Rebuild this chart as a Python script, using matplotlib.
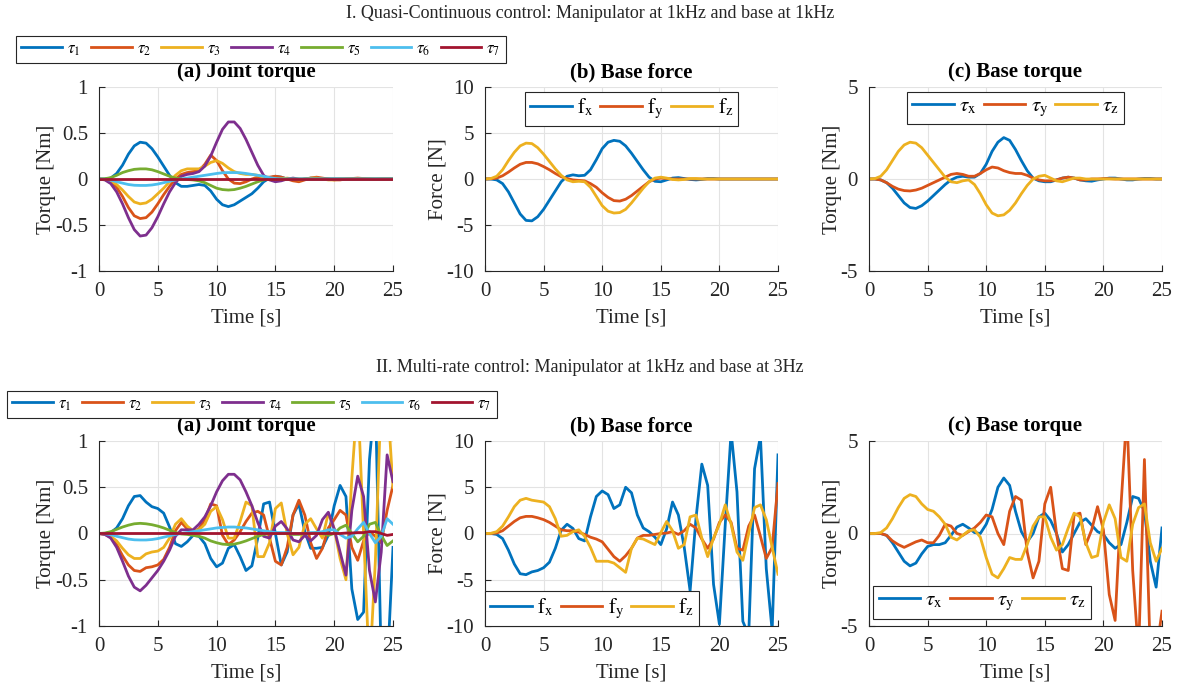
import numpy as np
import matplotlib
matplotlib.use("Agg")
import matplotlib.pyplot as plt

plt.rcParams['font.family'] = ['Liberation Serif', 'DejaVu Serif']
plt.rcParams['mathtext.fontset'] = 'stix'
plt.rcParams['axes.unicode_minus'] = False

# ---------------- data ----------------
t = np.arange(0, 25.01, 0.5)

# I. Quasi-continuous
tau1_c = [0,0,0.01,0.06,0.15,0.27,0.36,0.40,0.39,0.33,
          0.24,0.14,0.04,-0.04,-0.08,-0.08,-0.07,-0.06,-0.07,-0.13,
          -0.22,-0.28,-0.30,-0.28,-0.24,-0.20,-0.16,-0.10,-0.03,0.01,
          0.03,0.02,0.0,-0.01,-0.01,0.0,0.01,0.01,0.0,0.0,
          0,0,0,0,0,0,0,0,0,0,
          0]
tau2_c = [0,-0.005,-0.03,-0.09,-0.19,-0.31,-0.40,-0.43,-0.42,-0.36,
          -0.27,-0.17,-0.08,0.0,0.05,0.07,0.08,0.09,0.16,0.26,
          0.20,0.09,0.0,-0.045,-0.05,-0.03,0.0,0.02,0.02,0.02,
          0.03,0.02,0.0,-0.02,-0.03,-0.01,0.01,0.02,0.01,0.0,
          -0.01,-0.01,0,0.005,0.01,0.005,0,-0.005,0,0,
          0]
tau3_c = [0,-0.003,-0.02,-0.06,-0.12,-0.19,-0.25,-0.27,-0.26,-0.22,
          -0.16,-0.10,-0.03,0.04,0.09,0.11,0.11,0.11,0.14,0.18,
          0.20,0.17,0.12,0.08,0.06,0.05,0.05,0.04,0.02,0.0,
          -0.01,0.0,0.01,0.0,-0.01,0,0.01,0.01,0,-0.01,
          -0.01,0,0,0,0,0,0,0,0,0,
          0]
tau4_c = [0,-0.01,-0.05,-0.14,-0.27,-0.42,-0.55,-0.62,-0.61,-0.53,
          -0.41,-0.27,-0.14,-0.04,0.03,0.05,0.06,0.08,0.14,0.25,
          0.40,0.54,0.62,0.62,0.55,0.43,0.29,0.15,0.04,-0.01,
          -0.03,-0.02,0.0,0.01,0,0,0,0,0,0,
          0,0,0,0,0,0,0,0,0,0,
          0]
tau5_c = [0,0.003,0.015,0.04,0.07,0.09,0.105,0.11,0.11,0.10,
          0.08,0.055,0.03,0.01,0.0,-0.005,-0.01,-0.02,-0.04,-0.07,
          -0.10,-0.115,-0.12,-0.115,-0.10,-0.08,-0.055,-0.03,-0.01,0.0,
          0,0,0,0,0,0,0,0,0,0,
          0,0,0,0,0,0,0,0,0,0,
          0]
tau6_c = [0,-0.003,-0.012,-0.03,-0.045,-0.06,-0.068,-0.07,-0.07,-0.065,
          -0.055,-0.04,-0.025,-0.01,0.0,0.01,0.02,0.03,0.04,0.05,
          0.06,0.068,0.07,0.07,0.068,0.06,0.05,0.04,0.03,0.015,
          0.005,0,0,0,0,0,0,0,0,0,
          0,0,0,0,0,0,0,0,0,0,
          0]
tau7_c = [0,0,0,0,0,0,0,0,0,0,
          0,0,0,0,0,0,0,0,0,0,
          0,0,0,0,0,0,0,0,0,0,
          0,0,0,0,0,0,0,0,0,0,
          0,0,0,0,0,0,0,0,0,0,
          0]
fx_c = [0,0,-0.1,-0.5,-1.4,-2.6,-3.8,-4.5,-4.55,-4.1,
        -3.3,-2.3,-1.3,-0.3,0.3,0.45,0.35,0.4,1.0,2.1,
        3.3,4.0,4.2,4.1,3.6,2.8,1.9,1.0,0.2,-0.25,
        -0.3,-0.1,0.1,0.15,0.05,-0.05,-0.1,-0.05,0.05,0.05,
        0,0,0,0,0,0,0,0,0,0,
        0]
fy_c = [0,0.02,0.1,0.35,0.75,1.2,1.6,1.8,1.8,1.65,
        1.35,1.0,0.6,0.25,0.05,-0.1,-0.15,-0.2,-0.5,-0.9,
        -1.5,-2.0,-2.35,-2.4,-2.2,-1.8,-1.3,-0.8,-0.3,0.0,
        0.1,0.05,0,0,0,0,0,0,0,0,
        0,0,0,0,0,0,0,0,0,0,
        0]
fz_c = [0,0.05,0.3,1.0,2.0,2.9,3.6,3.9,3.85,3.4,
        2.7,1.9,1.1,0.4,-0.1,-0.3,-0.25,-0.3,-0.9,-1.9,
        -2.9,-3.5,-3.7,-3.65,-3.3,-2.6,-1.8,-1.0,-0.3,0.1,
        0.2,0.1,-0.05,-0.1,-0.05,0.05,0.05,0,0,0,
        0,0,0,0,0,0,0,0,0,0,
        0]
tx_c = [0,0,-0.05,-0.2,-0.5,-0.9,-1.3,-1.55,-1.6,-1.45,
        -1.2,-0.9,-0.6,-0.3,-0.05,0.1,0.15,0.1,0.1,0.3,
        0.8,1.5,2.0,2.25,2.1,1.6,1.0,0.45,0.05,-0.1,
        -0.15,-0.15,-0.05,0.05,0.1,0.05,-0.05,-0.1,-0.12,-0.05,
        0.0,0.05,0.05,0,-0.05,-0.05,0,0.03,0.03,0,
        0]
ty_c = [0,0,-0.05,-0.2,-0.4,-0.55,-0.63,-0.65,-0.6,-0.5,
        -0.35,-0.2,-0.05,0.1,0.25,0.3,0.25,0.15,0.15,0.3,
        0.5,0.65,0.6,0.45,0.35,0.3,0.3,0.2,0.05,-0.05,
        -0.1,-0.1,-0.05,0.05,0.1,0.05,-0.05,-0.05,0,0,
        0.02,0.02,0,0,0,0,0,0,0,0,
        0]
tz_c = [0,0.02,0.15,0.5,1.0,1.5,1.85,2.0,1.95,1.7,
        1.3,0.9,0.5,0.1,-0.15,-0.2,-0.1,-0.05,-0.3,-0.8,
        -1.4,-1.85,-2.0,-1.95,-1.7,-1.3,-0.8,-0.35,0.0,0.15,
        0.2,0.05,-0.1,-0.15,-0.05,0.05,0.05,0,0,0,
        0,0,0,0,0,0,0,0,0,0,
        0]

# II. Multi-rate
tau1_m = [0,0,0.01,0.06,0.16,0.30,0.40,0.41,0.34,0.29,
          0.27,0.22,0.07,-0.11,-0.14,-0.09,-0.02,-0.03,-0.11,-0.27,
          -0.36,-0.32,-0.16,-0.12,-0.25,-0.40,-0.35,-0.05,0.32,0.34,
          0.0,-0.34,-0.2,0.20,0.32,0.02,-0.16,-0.16,-0.15,-0.02,
          0.30,0.52,0.40,-0.6,-0.93,-0.85,0.8,1.5,-1.4,-1.5,
          -0.15]
tau2_m = [0,-0.01,-0.04,-0.12,-0.24,-0.34,-0.40,-0.41,-0.37,-0.36,
          -0.34,-0.28,-0.15,0.03,0.12,0.05,0.02,0.05,0.15,0.32,
          0.30,-0.02,-0.12,-0.07,0.02,0.13,0.22,0.24,0.2,-0.05,
          -0.3,-0.34,-0.15,0.2,0.36,0.2,-0.1,-0.27,-0.16,0.06,
          0.15,0.25,0.2,-0.15,-0.29,-0.08,0.02,-0.03,-0.1,0.25,
          0.52]
tau3_m = [0,-0.005,-0.03,-0.08,-0.16,-0.23,-0.27,-0.27,-0.22,-0.20,
          -0.19,-0.15,-0.05,0.1,0.16,0.08,0.03,0.04,0.1,0.24,
          0.29,0.15,-0.05,-0.05,0.13,0.34,0.3,-0.25,-0.25,-0.1,
          0.27,0.33,0.0,-0.23,-0.15,0.1,0.16,0.05,-0.05,0.22,
          0.05,-0.27,-0.5,0.6,1.5,0.0,-1.5,-0.3,1.5,1.5,
          0.5]
tau4_m = [0,-0.01,-0.05,-0.15,-0.30,-0.46,-0.58,-0.62,-0.56,-0.48,
          -0.40,-0.30,-0.18,-0.03,0.04,0.04,0.04,0.10,0.18,0.30,
          0.45,0.57,0.64,0.64,0.58,0.45,0.30,0.12,-0.03,-0.05,
          0.08,0.13,0.05,-0.07,-0.09,-0.02,-0.08,-0.02,0.15,0.23,
          0.05,-0.2,-0.45,0.25,0.62,0.4,-0.4,-0.74,-0.2,0.85,
          0.56]
tau5_m = [0,0.005,0.02,0.045,0.07,0.09,0.105,0.11,0.105,0.095,
          0.08,0.06,0.035,0.01,-0.005,-0.01,-0.02,-0.03,-0.05,-0.08,
          -0.10,-0.115,-0.12,-0.115,-0.10,-0.08,-0.055,-0.03,-0.01,0.0,
          0.0,0.0,0.0,-0.01,-0.01,0.0,0.0,0.01,0.0,-0.02,
          0.0,0.06,0.09,0.0,-0.09,-0.03,0.1,0.12,-0.02,-0.13,
          -0.08]
tau6_m = [0,-0.003,-0.012,-0.03,-0.045,-0.06,-0.068,-0.07,-0.07,-0.065,
          -0.055,-0.04,-0.025,-0.01,0.0,0.01,0.02,0.03,0.04,0.05,
          0.06,0.065,0.07,0.07,0.065,0.06,0.05,0.04,0.03,0.02,
          0.01,0.01,0.01,0.0,0.0,0.0,0.01,0.01,0.02,0.04,
          0.04,-0.01,-0.05,-0.03,0.05,0.12,0.0,-0.1,-0.03,0.16,
          0.1]
tau7_m = [0,0,0,0,0,0,0,0,0,0,
          0,0,0,0,0,0,0,0,0,0,
          0,0,0,0,0,0,0,0,0,0,
          0,0,0,0,0,0,0,0,0,0,
          0.0,0.0,0.005,0.005,0.01,0.01,0.02,0.02,0.0,-0.02,
          -0.01]
fx_m = [0,0,-0.1,-0.55,-1.8,-3.3,-4.35,-4.45,-4.15,-4.0,
        -3.7,-3.1,-1.6,0.35,1.0,0.55,-0.55,-0.8,1.8,4.0,
        4.6,4.2,2.7,3.1,5.0,4.4,2.0,0.6,0.2,-0.4,
        -1.2,0.5,3.4,2.0,-1.5,-6.2,1.6,7.5,5.2,-5.5,
        -9.8,1.0,11,4.5,-9.5,-11,7.0,10.5,-3.8,-10.5,
        8.5]
fy_m = [0,0.01,0.05,0.3,0.8,1.3,1.7,1.85,1.85,1.7,
        1.5,1.2,0.8,0.4,0.3,0.3,0.15,-0.1,-0.4,-0.6,
        -0.9,-1.7,-2.5,-3.0,-2.4,-1.6,-0.5,-0.2,-0.2,-0.1,
        0.0,0.05,0.2,-0.1,0.3,1.0,0.6,-0.6,-1.6,-0.6,
        1.2,2.0,1.2,-1.6,-1.8,0.8,2.0,-0.3,-2.7,-1.5,
        5.4]
fz_m = [0,0.02,0.2,0.8,1.8,2.9,3.6,3.8,3.6,3.5,
        3.4,2.9,1.6,-0.3,-0.2,0.2,0.4,-0.3,-1.5,-3.0,
        -3.0,-3.0,-3.2,-3.7,-4.2,-1.6,-0.5,-0.6,-0.9,-1.2,
        0.1,1.3,0.3,-1.6,-1.2,1.8,2.0,-0.5,-2.5,-0.5,
        1.0,3.1,1.0,-2.0,-2.9,0.0,2.8,3.1,1.5,-1.5,
        -4.4]
tx_m = [0,0,0,-0.1,-0.5,-1.0,-1.5,-1.75,-1.6,-1.1,
        -0.7,-0.6,-0.6,-0.5,-0.1,0.35,0.5,0.3,0.05,0.0,
        0.5,1.3,2.5,3.0,2.6,1.2,0.1,-0.45,0.0,0.9,
        1.1,0.7,0.0,-1.0,-0.6,0.0,0.6,0.8,0.45,0.1,
        -0.05,-0.5,-0.8,-0.6,0.6,2.0,1.9,1.2,-1.5,-2.9,
        0.3]
ty_m = [0,0,0,-0.1,-0.4,-0.6,-0.75,-0.6,-0.45,-0.35,
        -0.5,-0.5,-0.1,0.5,0.4,0.0,-0.1,0.1,0.3,0.6,
        1.0,0.9,0.0,-0.6,1.2,2.0,1.8,-1.0,-2.4,-1.5,
        1.6,2.5,0.0,-1.9,-2.0,1.0,1.1,-0.6,0.2,1.45,
        0.2,-3.3,-4.7,1.5,6.5,-2.0,-6.5,4.0,-6.5,-6.5,
        -4.2]
tz_m = [0,0,0.05,0.3,0.8,1.4,1.9,2.1,2.0,1.6,
        1.3,1.2,0.9,0.5,-0.2,-0.35,-0.1,0.15,0.2,-0.2,
        -1.3,-2.2,-2.4,-1.9,-1.3,-1.4,-1.4,-0.6,0.4,0.9,
        0.9,-0.2,-0.9,-0.6,0.3,1.1,0.9,-0.5,-1.3,-1.2,
        0.6,1.55,0.8,-1.3,-1.5,0.5,1.4,1.6,-0.5,-1.5,
        -0.8]

joint_labels = [r'$\tau_1$', r'$\tau_2$', r'$\tau_3$', r'$\tau_4$',
                r'$\tau_5$', r'$\tau_6$', r'$\tau_7$']
force_labels = [r'$\mathrm{f}_\mathrm{x}$', r'$\mathrm{f}_\mathrm{y}$', r'$\mathrm{f}_\mathrm{z}$']
btorque_labels = [r'$\tau_\mathrm{x}$', r'$\tau_\mathrm{y}$', r'$\tau_\mathrm{z}$']
section_titles = ['I. Quasi-Continuous control: Manipulator at 1kHz and base at 1kHz',
                  'II. Multi-rate control: Manipulator at 1kHz and base at 3Hz']

colors = ['#0072BD', '#D95319', '#EDB120', '#7E2F8E', '#77AC30', '#4DBEEE', '#A2142F']

# ---------------- figure ----------------
W, H = 1179, 689
fig = plt.figure(figsize=(W/100, H/100), dpi=100)

def px_axes(x0, x1, ytop, ybot):
    return fig.add_axes([x0/W, 1 - ybot/H, (x1-x0)/W, (ybot-ytop)/H])

ink = '#262626'
def style(ax, ylim, yticks, ylabel, title):
    ax.set_xlim(0, 25)
    ax.set_ylim(*ylim)
    ax.set_xticks([0, 5, 10, 15, 20, 25])
    ax.set_yticks(yticks)
    ax.grid(True, color='#e3e3e3', linewidth=0.8)
    ax.set_axisbelow(True)
    for s in ['top', 'right']:
        ax.spines[s].set_visible(False)
    for s in ['left', 'bottom']:
        ax.spines[s].set_color(ink)
        ax.spines[s].set_linewidth(0.8)
    ax.tick_params(direction='in', length=4, width=0.8, colors=ink, labelsize=15)
    ax.tick_params(axis='x', pad=8)
    ax.tick_params(axis='y', pad=8)
    ax.set_xlabel('Time [s]', fontsize=15, color=ink, labelpad=5)
    ax.set_ylabel(ylabel, fontsize=15, color=ink, labelpad=-1)
    ax.set_title(title, fontsize=15, fontweight='bold', pad=7)

rows = [
    dict(ytop=87, ybot=271,
         joints=[tau1_c, tau2_c, tau3_c, tau4_c, tau5_c, tau6_c, tau7_c],
         force=[fx_c, fy_c, fz_c], torque=[tx_c, ty_c, tz_c]),
    dict(ytop=441, ybot=626,
         joints=[tau1_m, tau2_m, tau3_m, tau4_m, tau5_m, tau6_m, tau7_m],
         force=[fx_m, fy_m, fz_m], torque=[tx_m, ty_m, tz_m]),
]

lw = 2.0
for r, row in enumerate(rows):
    axa = px_axes(99, 393, row['ytop'], row['ybot'])
    axb = px_axes(485, 778, row['ytop'], row['ybot'])
    axc = px_axes(869, 1162, row['ytop'], row['ybot'])
    style(axa, (-1, 1), [-1, -0.5, 0, 0.5, 1], 'Torque [Nm]', '(a) Joint torque')
    style(axb, (-10, 10), [-10, -5, 0, 5, 10], 'Force [N]', '(b) Base force')
    style(axc, (-5, 5), [-5, 0, 5], 'Torque [Nm]', '(c) Base torque')
    axa.set_yticklabels(['-1', '-0.5', '0', '0.5', '1'])

    jl = []
    for i, s in enumerate(row['joints']):
        l, = axa.plot(t, s, color=colors[i], lw=lw, label=joint_labels[i])
        jl.append(l)
    for i, s in enumerate(row['force']):
        axb.plot(t, s, color=colors[i], lw=lw, label=force_labels[i])
    for i, s in enumerate(row['torque']):
        axc.plot(t, s, color=colors[i], lw=lw, label=btorque_labels[i])

    # joint legend above (a)
    if r == 0:
        cx, cy = 261, 49.5
    else:
        cx, cy = 252, 404.5
    leg = fig.legend(handles=jl, loc='center', bbox_to_anchor=(cx/W, 1 - cy/H),
                     ncol=7, fontsize=12, frameon=True, fancybox=False,
                     edgecolor=ink, handlelength=2.45, handletextpad=0.3,
                     columnspacing=0.6, borderpad=0.3, framealpha=1)
    leg.get_frame().set_linewidth(0.8)

    lkw = dict(ncol=3, fontsize=15, fancybox=False, edgecolor=ink, framealpha=1,
               handlelength=2.0, handletextpad=0.25, columnspacing=0.35, borderpad=0.25)
    if r == 0:
        for ax in (axb, axc):
            leg = ax.legend(loc='upper center', bbox_to_anchor=(0.5, 0.975), borderaxespad=0, **lkw)
            leg.get_frame().set_linewidth(0.8)
    else:
        leg = axb.legend(loc='lower left', bbox_to_anchor=(0, 0), borderaxespad=0, **lkw)
        leg.get_frame().set_linewidth(0.8)
        leg = axc.legend(loc='lower left', bbox_to_anchor=(0.015, 0.04), borderaxespad=0, **lkw)
        leg.get_frame().set_linewidth(0.8)

fig.text(590/W, 1 - 14/H, section_titles[0], ha='center', va='center', fontsize=13, color=ink)
fig.text(590/W, 1 - 368/H, section_titles[1], ha='center', va='center', fontsize=13, color=ink)

fig.savefig('out.png', dpi=100)
